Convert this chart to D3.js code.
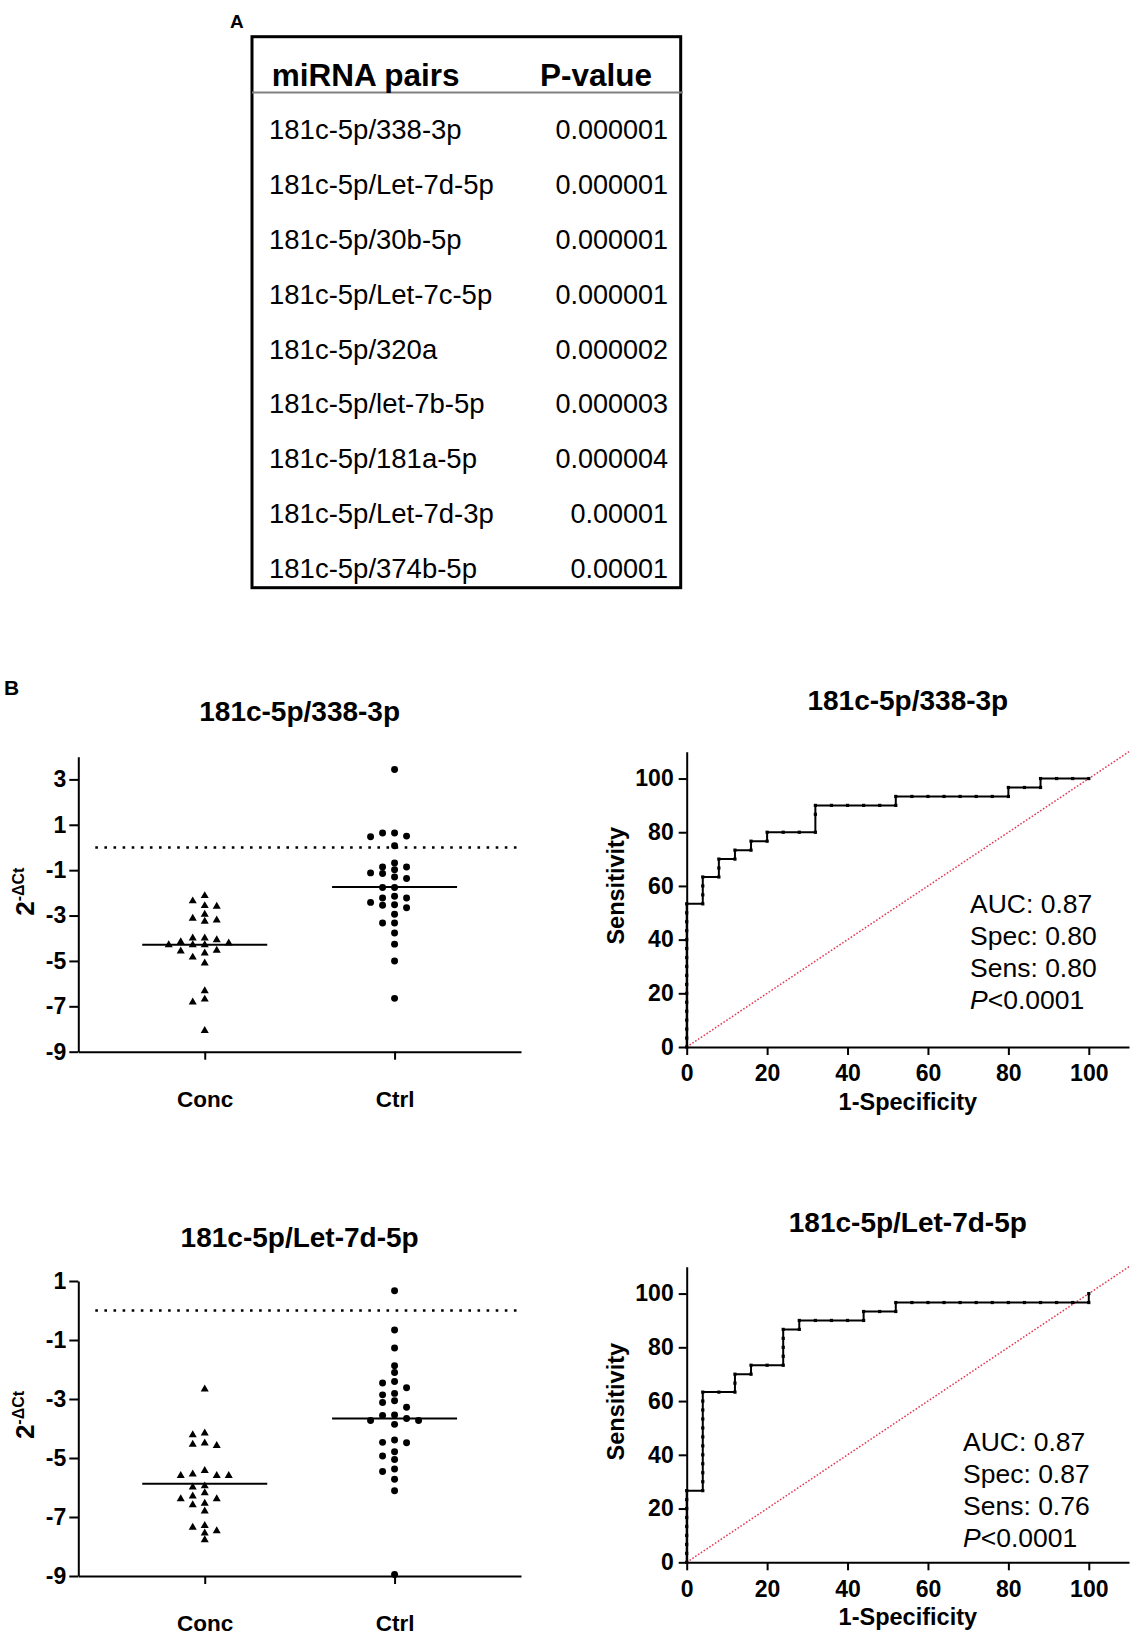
<!DOCTYPE html>
<html lang="en">
<head>
  <meta charset="UTF-8">
  <script src="https://d3js.org/d3.v7.min.js"></script>
  <title>miRNA pairs: scatter and ROC</title>
  <style>
    body { margin: 0; background: #fff; }
    svg { display: block; }
    text { font-family: 'Liberation Sans', Arial, sans-serif; fill: #000; }
  </style>
</head>
<body>
<svg id="fig" width="1134" height="1637"></svg>
<script>

  // ---- data ----
  const pairNames = ["181c-5p/338-3p", "181c-5p/Let-7d-5p", "181c-5p/30b-5p", "181c-5p/Let-7c-5p",
    "181c-5p/320a", "181c-5p/let-7b-5p", "181c-5p/181a-5p", "181c-5p/Let-7d-3p", "181c-5p/374b-5p"];
  const pairPvalues = ["0.000001", "0.000001", "0.000001", "0.000001", "0.000002",
    "0.000003", "0.000004", "0.00001", "0.00001"];

  const groups = ["Conc", "Ctrl"];

  // 181c-5p/338-3p
  const conc338 = [-2.13, -2.36, -2.57, -2.6, -2.95, -3.13, -3.2, -3.26, -4.0, -4.0, -4.07, -4.16, -4.22,
    -4.29, -4.29, -4.29, -4.54, -4.57, -4.66, -4.84, -5.1, -6.32, -6.69, -6.82, -8.07];
  const ctrl338 = [3.44, 0.64, 0.64, 0.5, 0.47, 0.08, -0.68, -0.86, -0.86, -0.98, -1.12, -1.15, -1.3, -1.37,
    -1.76, -1.76, -2.15, -2.23, -2.23, -2.42, -2.52, -2.55, -2.66, -2.94, -3.33, -3.33, -3.77, -4.26, -5.0, -6.65];
  const median338 = [-4.29, -1.74];
  const yTicks338 = [3, 1, -1, -3, -5, -7, -9];

  // 181c-5p/Let-7d-5p
  const concLet7d = [-2.67, -4.16, -4.22, -4.5, -4.54, -4.58, -5.43, -5.55, -5.6, -5.6, -5.6, -5.95, -5.99,
    -6.18, -6.29, -6.39, -6.39, -6.54, -6.59, -6.8, -7.29, -7.35, -7.47, -7.55, -7.78];
  const ctrlLet7d = [0.67, -0.66, -1.27, -1.87, -2.1, -2.41, -2.46, -2.62, -2.81, -2.86, -3.06, -3.12, -3.28,
    -3.54, -3.56, -3.66, -3.73, -3.73, -3.86, -4.39, -4.47, -4.48, -4.79, -4.93, -5.05, -5.37, -5.46, -5.72, -6.11, -8.95];
  const medianLet7d = [-5.87, -3.66];
  const yTicksLet7d = [1, -1, -3, -5, -7, -9];

  // ROC curves, [1-specificity %, sensitivity %]
  const roc338 = [[0,0],[0,3.33],[0,6.67],[0,10],[0,13.33],[0,16.67],[0,20],[0,23.33],[0,26.67],[0,30],
    [0,33.33],[0,36.67],[0,40],[0,43.33],[0,46.67],[0,50],[0,53.33],
    [4,53.33],[4,56.67],[4,60],[4,63.33],[8,63.33],[8,66.67],[8,70],[12,70],[12,73.33],
    [16,73.33],[16,76.67],[20,76.67],[20,80],[24,80],[28,80],[32,80],[32,86.67],[32,90],
    [36,90],[40,90],[44,90],[48,90],[52,90],[52,93.33],[56,93.33],[60,93.33],[64,93.33],[68,93.33],
    [72,93.33],[76,93.33],[80,93.33],[80,96.67],[84,96.67],[88,96.67],[88,100],[92,100],[96,100],[100,100]];
  const rocLet7d = [[0,0],[0,3.33],[0,6.67],[0,10],[0,13.33],[0,16.67],[0,20],[0,23.33],[0,26.67],
    [4,26.67],[4,30],[4,33.33],[4,36.67],[4,40],[4,43.33],[4,46.67],[4,50],[4,53.33],[4,56.67],[4,60],[4,63.33],
    [8,63.33],[12,63.33],[12,66.67],[12,70],[16,70],[16,73.33],[20,73.33],[24,73.33],[24,76.67],[24,80],
    [24,83.33],[24,86.67],[28,86.67],[28,90],[32,90],[36,90],[40,90],[44,90],[44,93.33],[48,93.33],
    [52,93.33],[52,96.67],[56,96.67],[60,96.67],[64,96.67],[68,96.67],[72,96.67],[76,96.67],[80,96.67],
    [84,96.67],[88,96.67],[92,96.67],[96,96.67],[100,96.67],[100,100]];
  const rocTicks = [0, 20, 40, 60, 80, 100];
  const stats338 = ["AUC: 0.87", "Spec: 0.80", "Sens: 0.80"];
  const statsLet7d = ["AUC: 0.87", "Spec: 0.87", "Sens: 0.76"];
  const rocP = "<0.0001";

  const svg = d3.select("#fig");

  // ---- panel A: table ----
  svg.append("text").attr("x", 230).attr("y", 28.3)
          .style("font-weight", "bold").style("font-size", "19px").text("A");

  svg.append("rect").attr("x", 252).attr("y", 36.7).attr("width", 428.7).attr("height", 551)
          .attr("fill", "none").attr("stroke", "#000").attr("stroke-width", 3);
  svg.append("line").attr("x1", 252).attr("x2", 683).attr("y1", 92.5).attr("y2", 92.5)
          .attr("stroke", "#808080").attr("stroke-width", 2);

  svg.append("text").attr("x", 271.7).attr("y", 86)
          .style("font-weight", "bold").style("font-size", "31.5px").text("miRNA pairs");
  svg.append("text").attr("x", 652).attr("y", 86).attr("text-anchor", "end")
          .style("font-weight", "bold").style("font-size", "31.5px").text("P-value");

  let rowY = d3.scaleLinear().domain([0, pairNames.length - 1]).range([139.3, 577.7]);

  svg.append("g").selectAll("text")
          .data(pairNames)
          .join("text")
          .attr("x", 269)
          .attr("y", (d, i) => rowY(i))
          .style("font-size", "27.5px")
          .text(d => d);

  svg.append("g").selectAll("text")
          .data(pairPvalues)
          .join("text")
          .attr("x", 668)
          .attr("y", (d, i) => rowY(i))
          .attr("text-anchor", "end")
          .style("font-size", "27px")
          .text(d => d);

  // ---- panel B ----
  svg.append("text").attr("x", 4).attr("y", 695)
          .style("font-weight", "bold").style("font-size", "21px").text("B");

  function styleAxis(a, size) {
    a.select(".domain").attr("stroke-width", 2);
    a.selectAll(".tick line").attr("stroke-width", 2);
    a.selectAll(".tick text").attr("fill", "#000")
            .style("font-family", "'Liberation Sans', Arial, sans-serif")
            .style("font-weight", "bold").style("font-size", size);
  }

  // simple beeswarm: slots every 6px, keep points apart by 12px across or 6.5px down
  function swarm(values, y, cx) {
    let pts = values.map(v => ({v: v, py: y(v)})).sort((a, b) => a.py - b.py);
    let slots = [0];
    for (let k = 1; k <= 8; k++) slots.push(-6 * k, 6 * k);
    let placed = [];
    pts.forEach(p => {
      for (let s of slots) {
        let ok = placed.every(q => Math.abs(q.dx - s) >= 11.5 || Math.abs(q.py - p.py) >= 6.5);
        if (ok) { p.dx = s; break; }
      }
      placed.push(p);
    });
    return placed.map(p => ({x: cx + p.dx, y: p.py}));
  }

  function drawScatter(o) {
    let left = 78.3, right = 521;
    let x = d3.scalePoint().domain(groups).range([left, right]).padding(0.666);
    let y = d3.scaleLinear().domain(o.domain).range([o.bottom, o.top]);
    let g = svg.append("g");

    let ya = g.append("g").attr("transform", "translate(" + left + ",0)")
            .call(d3.axisLeft(y).tickValues(o.ticks).tickSize(9).tickPadding(3).tickSizeOuter(0)
                    .tickFormat(d => String(d)));
    styleAxis(ya, "23px");

    let xa = g.append("g").attr("transform", "translate(0," + o.bottom + ")")
            .call(d3.axisBottom(x).tickSize(8).tickPadding(31).tickSizeOuter(0));
    styleAxis(xa, "22.5px");

    // reference line at 0
    g.append("line")
            .attr("x1", left + 17).attr("x2", right)
            .attr("y1", y(0)).attr("y2", y(0))
            .attr("stroke", "#000").attr("stroke-width", 2.6)
            .attr("stroke-dasharray", "2.6 6.5");

    // medians
    g.append("g").selectAll("line")
            .data(o.medians)
            .join("line")
            .attr("x1", (d, i) => x(groups[i]) - 62.5)
            .attr("x2", (d, i) => x(groups[i]) + 62.5)
            .attr("y1", d => y(d)).attr("y2", d => y(d))
            .attr("stroke", "#000").attr("stroke-width", 2);

    let tri = d3.symbol().type(d3.symbolTriangle).size(28);
    let dot = d3.symbol().type(d3.symbolCircle).size(38);

    g.append("g").selectAll("path")
            .data(swarm(o.conc, y, x("Conc")))
            .join("path")
            .attr("d", tri)
            .attr("transform", d => "translate(" + d.x + "," + d.y + ")")
            .attr("fill", "#000");

    g.append("g").selectAll("path")
            .data(swarm(o.ctrl, y, x("Ctrl")))
            .join("path")
            .attr("d", dot)
            .attr("transform", d => "translate(" + d.x + "," + d.y + ")")
            .attr("fill", "#000");

    g.append("text")
            .attr("x", (left + right) / 2).attr("y", o.titleY)
            .attr("text-anchor", "middle")
            .style("font-weight", "bold").style("font-size", "28px")
            .text(o.title);

    let lab = g.append("text")
            .attr("transform", "translate(33.5," + o.labelY + ") rotate(-90)")
            .attr("text-anchor", "middle")
            .style("font-weight", "bold");
    lab.append("tspan").style("font-size", "26px").text("2");
    lab.append("tspan").attr("dy", -10).style("font-size", "16px").text("-ΔCt");
  }

  function drawRoc(o) {
    let left = 686.7, right = 1129;
    let x = d3.scaleLinear().domain([0, 110]).range([left, right]);
    let y = d3.scaleLinear().domain([0, 110]).range([o.bottom, o.top]);
    let g = svg.append("g");

    // chance line
    g.append("line")
            .attr("x1", x(0)).attr("y1", y(0)).attr("x2", x(110)).attr("y2", y(110))
            .attr("stroke", "#e03a52").attr("stroke-width", 1.5)
            .attr("stroke-dasharray", "1.6 1.8");

    let ya = g.append("g").attr("transform", "translate(" + left + ",0)")
            .call(d3.axisLeft(y).tickValues(rocTicks).tickSize(8).tickPadding(5).tickSizeOuter(0));
    styleAxis(ya, "23px");
    let xa = g.append("g").attr("transform", "translate(0," + o.bottom + ")")
            .call(d3.axisBottom(x).tickValues(rocTicks).tickSize(8).tickPadding(10).tickSizeOuter(0));
    styleAxis(xa, "23px");

    let line = d3.line().x(d => x(d[0])).y(d => y(d[1]));
    g.append("path")
            .attr("d", line(o.roc))
            .attr("fill", "none").attr("stroke", "#000").attr("stroke-width", 2);

    g.append("g").selectAll("rect")
            .data(o.roc)
            .join("rect")
            .attr("x", d => x(d[0]) - 1.6).attr("y", d => y(d[1]) - 1.6)
            .attr("width", 3.2).attr("height", 3.2)
            .attr("fill", "#000");

    g.append("text")
            .attr("x", (left + right) / 2).attr("y", o.titleY)
            .attr("text-anchor", "middle")
            .style("font-weight", "bold").style("font-size", "28px")
            .text(o.title);

    g.append("text")
            .attr("transform", "translate(623.5," + o.labelY + ") rotate(-90)")
            .attr("text-anchor", "middle")
            .style("font-weight", "bold").style("font-size", "23.5px")
            .text("Sensitivity");

    g.append("text")
            .attr("x", (left + right) / 2).attr("y", o.bottom + 63)
            .attr("text-anchor", "middle")
            .style("font-weight", "bold").style("font-size", "23.5px")
            .text("1-Specificity");

    let st = g.append("g").style("font-size", "26.5px");
    st.selectAll("text")
            .data(o.stats)
            .join("text")
            .attr("x", o.statX)
            .attr("y", (d, i) => o.statY + i * 32.2)
            .text(d => d);
    let pl = st.append("text").attr("x", o.statX).attr("y", o.statY + 3 * 32.2);
    pl.append("tspan").style("font-style", "italic").text("P");
    pl.append("tspan").text(rocP);
  }

  drawScatter({top: 756.7, bottom: 1051.7, domain: [-9, 4], ticks: yTicks338,
    conc: conc338, ctrl: ctrl338, medians: median338,
    title: "181c-5p/338-3p", titleY: 720.7, labelY: 891.7});
  drawScatter({top: 1281, bottom: 1576, domain: [-9, 1], ticks: yTicksLet7d,
    conc: concLet7d, ctrl: ctrlLet7d, medians: medianLet7d,
    title: "181c-5p/Let-7d-5p", titleY: 1246.7, labelY: 1415});

  drawRoc({top: 751.7, bottom: 1047, roc: roc338, stats: stats338,
    title: "181c-5p/338-3p", titleY: 710, labelY: 885.8, statX: 970, statY: 912.7});
  drawRoc({top: 1266.7, bottom: 1562.3, roc: rocLet7d, stats: statsLet7d,
    title: "181c-5p/Let-7d-5p", titleY: 1231.7, labelY: 1401.7, statX: 963, statY: 1450.7});

</script>
</body>
</html>
